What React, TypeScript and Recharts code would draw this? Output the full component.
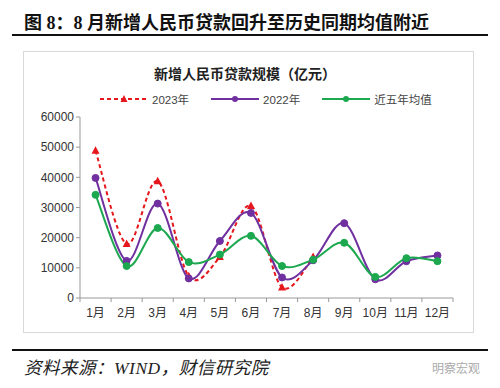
import React from "react"
import { LineChart, Line, XAxis, YAxis } from "recharts"

const months = ["1月", "2月", "3月", "4月", "5月", "6月", "7月", "8月", "9月", "10月", "11月", "12月"]
const y2023 = [48800, 17900, 38700, 7200, 13600, 30500, 3500, 13600, null, null, null, null]
const y2022 = [39800, 12300, 31300, 6500, 18900, 28200, 6800, 12500, 24800, 6200, 12200, 14100]
const avg5 = [34200, 10600, 23200, 11900, 14400, 20600, 10600, 12700, 18300, 7000, 13200, 12200]
const yTicks = [0, 10000, 20000, 30000, 40000, 50000, 60000]

const RED = "#E5161C"
const PURPLE = "#7030A0"
const GREEN = "#1BA84F"

const data = months.map((m, i) => ({ month: m, a: y2023[i], b: y2022[i], c: avg5[i] }))

// excel-like smoothed line (catmull-rom)
const smooth = (context: any) => {
  let pts: number[][] = []
  return {
    areaStart() {},
    areaEnd() {},
    lineStart() {
      pts = []
    },
    point(x: number, y: number) {
      pts.push([+x, +y])
    },
    lineEnd() {
      const n = pts.length
      if (!n) return
      context.moveTo(pts[0][0], pts[0][1])
      for (let i = 0; i < n - 1; i++) {
        const p0 = pts[i - 1] || pts[i]
        const p1 = pts[i]
        const p2 = pts[i + 1]
        const p3 = pts[i + 2] || p2
        context.bezierCurveTo(
          p1[0] + (p2[0] - p0[0]) / 6,
          p1[1] + (p2[1] - p0[1]) / 6,
          p2[0] - (p3[0] - p1[0]) / 6,
          p2[1] - (p3[1] - p1[1]) / 6,
          p2[0],
          p2[1]
        )
      }
    },
  }
}

const Triangle = (props: any) => {
  const { cx, cy, value } = props
  if (value == null || cx == null || cy == null) return null
  return <polygon points={`${cx},${cy - 4.5} ${cx - 4},${cy + 3} ${cx + 4},${cy + 3}`} fill={RED} />
}

const XTick = (props: any) => {
  const { x, y, payload, index } = props
  const half = payload && payload.offset ? payload.offset : 15.5
  return (
    <g>
      <line x1={x - half} x2={x - half} y1={y - 8} y2={y - 4} stroke="#999" />
      {index === months.length - 1 && <line x1={x + half} x2={x + half} y1={y - 8} y2={y - 4} stroke="#999" />}
      <text x={x} y={y + 11} textAnchor="middle" fontSize={12} fill="#333" fontFamily="'Liberation Sans', 'Noto Sans CJK SC'">
        {payload.value}
      </text>
    </g>
  )
}

const LegendItem = ({ color, label, dashed, tri }: any) => (
  <div style={{ display: "flex", alignItems: "center", marginRight: 22 }}>
    <svg width={48} height={10} style={{ marginRight: 4 }}>
      <line x1={0} x2={48} y1={5} y2={5} stroke={color} strokeWidth={2} strokeDasharray={dashed ? "4 3" : undefined} />
      {tri ? <polygon points="24,1 20.5,8 27.5,8" fill={color} /> : <circle cx={24} cy={5} r={3} fill={color} />}
    </svg>
    <span>{label}</span>
  </div>
)

export default function App() {
  return (
    <div style={{ position: "absolute", left: 0, top: 0, width: 500, height: 388, background: "#fff", overflow: "hidden" }}>
      <div
        style={{
          position: "absolute",
          left: 24,
          top: 8,
          fontSize: 18,
          fontWeight: "bold",
          fontFamily: "'Liberation Serif', 'Noto Sans CJK SC', serif",
          color: "#111",
          whiteSpace: "nowrap",
        }}
      >
        图 8：8 月新增人民币贷款回升至历史同期均值附近
      </div>
      <div style={{ position: "absolute", left: 12, top: 34, width: 476, height: 2, background: "#111" }} />

      <div style={{ position: "absolute", left: 23, top: 51, width: 449, height: 280, border: "1px solid #d9d9d9" }} />

      <div
        style={{
          position: "absolute",
          left: 0,
          width: 490,
          top: 63,
          textAlign: "center",
          fontSize: 14,
          fontWeight: "bold",
          fontFamily: "'Noto Sans CJK SC', sans-serif",
          color: "#222",
        }}
      >
        新增人民币贷款规模（亿元）
      </div>

      <div
        style={{
          position: "absolute",
          left: 100,
          top: 91,
          display: "flex",
          fontSize: 11.5,
          color: "#444",
          fontFamily: "'Liberation Sans', 'Noto Sans CJK SC', sans-serif",
        }}
      >
        <LegendItem color={RED} label="2023年" dashed tri />
        <LegendItem color={PURPLE} label="2022年" />
        <LegendItem color={GREEN} label="近五年均值" />
      </div>

      <div style={{ position: "absolute", left: 0, top: 0 }}>
        <LineChart width={500} height={388} data={data} margin={{ top: 117, right: 47, bottom: 60, left: 30 }}>
          <XAxis
            dataKey="month"
            scale="band"
            height={30}
            axisLine={{ stroke: "#999" }}
            tickLine={false}
            interval={0}
            tick={<XTick />}
          />
          <YAxis
            width={50}
            domain={[0, 60000]}
            ticks={yTicks}
            interval={0}
            axisLine={{ stroke: "#999" }}
            tickLine={{ stroke: "#999" }}
            tickSize={4}
            tick={{ fontSize: 12, fill: "#333", fontFamily: "'Liberation Sans', sans-serif" }}
          />
          <Line
            dataKey="a"
            type={smooth as any}
            stroke={RED}
            strokeWidth={2}
            strokeDasharray="4 3"
            dot={<Triangle />}
            activeDot={false}
            isAnimationActive={false}
          />
          <Line
            dataKey="b"
            type={smooth as any}
            stroke={PURPLE}
            strokeWidth={2}
            dot={{ r: 3.5, fill: PURPLE, stroke: PURPLE, strokeWidth: 1 }}
            activeDot={false}
            isAnimationActive={false}
          />
          <Line
            dataKey="c"
            type={smooth as any}
            stroke={GREEN}
            strokeWidth={2}
            dot={{ r: 3.5, fill: GREEN, stroke: GREEN, strokeWidth: 1 }}
            activeDot={false}
            isAnimationActive={false}
          />
        </LineChart>
      </div>

      <div style={{ position: "absolute", left: 12, top: 349, width: 476, height: 2, background: "#111" }} />
      <div
        style={{
          position: "absolute",
          left: 24,
          top: 354,
          fontSize: 17.5,
          letterSpacing: 0.5,
          fontStyle: "italic",
          fontFamily: "'Liberation Serif', 'Noto Sans CJK SC', serif",
          color: "#222",
          whiteSpace: "nowrap",
        }}
      >
        资料来源：WIND，财信研究院
      </div>
      <div
        style={{
          position: "absolute",
          left: 432,
          top: 359,
          fontSize: 12,
          color: "#aaa",
          fontFamily: "'Noto Sans CJK SC', sans-serif",
        }}
      >
        明察宏观
      </div>
    </div>
  )
}
